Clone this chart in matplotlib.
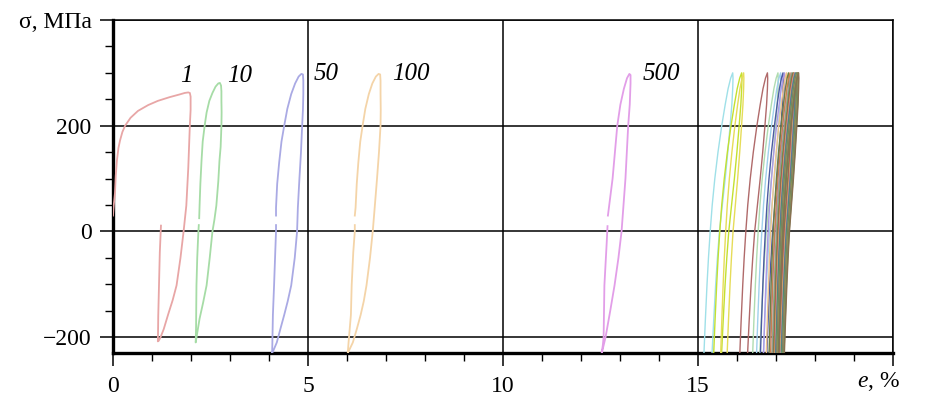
import numpy as np
import matplotlib
matplotlib.use('Agg')
import matplotlib.pyplot as plt
from matplotlib.ticker import MultipleLocator

plt.rcParams['font.family'] = ['Liberation Serif', 'DejaVu Serif']
plt.rcParams['mathtext.fontset'] = 'custom'
plt.rcParams['mathtext.rm'] = 'Liberation Serif'
plt.rcParams['mathtext.it'] = 'Liberation Serif:italic'

# cycle loops: strain (%) and stress (MPa) along the path
e_1 = [0.00, 0.02, 0.05, 0.07, 0.10, 0.14, 0.18, 0.24, 0.31, 0.45, 0.64, 0.90, 1.15,
       1.45, 1.70, 1.84, 1.93, 1.97, 1.99, 1.99, 1.97, 1.95, 1.93, 1.88, 1.81, 1.73,
       1.63, 1.53, 1.41, 1.30, 1.22, 1.17, 1.15, 1.155, 1.16, 1.18, 1.20, 1.23]
s_1 = [30, 50, 72, 105, 134, 158, 172, 188, 200, 215, 228, 239, 247,
       254, 259, 262, 263, 262, 255, 230, 200, 160, 120, 49, 0, -50,
       -102, -130, -158, -185, -200, -207, -208, -190, -160, -100, -40, 11]

e_10 = [2.21, 2.22, 2.24, 2.27, 2.30, 2.35, 2.40, 2.47, 2.55, 2.63, 2.70, 2.74, 2.77,
        2.78, 2.78, 2.785, 2.78, 2.76, 2.73, 2.70, 2.65, 2.60, 2.55, 2.48, 2.40, 2.31,
        2.22, 2.16, 2.12, 2.13, 2.135, 2.14, 2.16, 2.18, 2.19, 2.20]
s_10 = [25, 49, 90, 134, 170, 200, 225, 247, 262, 274, 280, 281, 276,
        265, 247, 225, 200, 160, 134, 95, 49, 22, 0, -50, -102, -135,
        -165, -192, -210, -180, -140, -102, -50, -15, 0, 12]

e_50 = [4.18, 4.18, 4.21, 4.26, 4.32, 4.39, 4.47, 4.57, 4.67, 4.76, 4.83, 4.87, 4.88,
        4.88, 4.87, 4.85, 4.82, 4.78, 4.74, 4.72, 4.66, 4.57, 4.48, 4.39, 4.29, 4.20,
        4.12, 4.08, 4.085, 4.10, 4.13, 4.16, 4.18, 4.18]
s_50 = [30, 45, 90, 130, 170, 200, 232, 260, 280, 293, 298, 297, 285,
        260, 230, 200, 150, 100, 45, 0, -50, -102, -132, -158, -185, -210,
        -224, -230, -215, -158, -102, -40, 0, 12]

e_100 = [6.20, 6.22, 6.25, 6.29, 6.34, 6.40, 6.47, 6.56, 6.65, 6.74, 6.81, 6.85, 6.86,
         6.86, 6.865, 6.86, 6.82, 6.77, 6.71, 6.66, 6.59, 6.50, 6.43, 6.35, 6.25, 6.15,
         6.06, 6.02, 6.04, 6.10, 6.12, 6.16, 6.20, 6.20]
s_100 = [30, 45, 90, 130, 170, 200, 232, 260, 280, 293, 298, 297, 285,
         260, 230, 200, 150, 100, 45, 0, -50, -102, -132, -158, -185, -210,
         -224, -230, -210, -158, -102, -40, 0, 12]

e_500 = [12.69, 12.75, 12.81, 12.87, 12.93, 13.01, 13.10, 13.18, 13.24, 13.27, 13.27,
         13.25, 13.21, 13.14, 13.04, 12.96, 12.86, 12.75, 12.63, 12.55, 12.52,
         12.56, 12.58, 12.60, 12.66, 12.68]
s_500 = [30, 65, 100, 150, 200, 240, 270, 290, 298, 296, 280,
         240, 200, 100, 0, -50, -102, -150, -200, -225, -235,
         -215, -200, -102, -20, 10]

loops = [(e_1, s_1, '#e8a6a6'), (e_10, s_10, '#a6dca6'), (e_50, s_50, '#aaaae4'),
         (e_100, s_100, '#f4d4a8'), (e_500, s_500, '#e29ee8')]

cycle_labels = ['1', '10', '50', '100', '500']
label_e = [1.89, 3.24, 5.46, 7.63, 14.05]
label_s = [294, 294, 298, 298, 298]

# late cycles: loop shape read from the first of them, placed by bottom / peak strain
shape_s_up = [-235, -170, -100, -50, 0, 50, 100, 150, 200, 240, 270, 290, 300]
shape_f_up = [0.0, 0.05, 0.11, 0.16, 0.22, 0.29, 0.38, 0.49, 0.62, 0.74, 0.84, 0.93, 1.0]
shape_s_dn = [300, 290, 270, 240, 200, 150, 100, 50, 0, -50, -100, -170, -235]
shape_f_dn = [1.0, 1.01, 1.0, 0.97, 0.91, 0.83, 0.74, 0.64, 0.54, 0.47, 0.41, 0.34, 0.28]

late_bottom = [15.15, 15.40, 15.58, 16.07, 16.40, 16.50, 16.60, 16.68, 16.75, 16.82,
               16.86, 16.90, 16.93, 16.95, 16.97, 16.99, 17.00, 17.02, 17.03, 17.04,
               17.05, 17.06, 17.07]
late_peak = [15.89, 16.12, 16.17, 16.78, 17.05, 17.12, 17.18, 17.22, 17.27, 17.32,
             17.36, 17.40, 17.43, 17.45, 17.47, 17.49, 17.51, 17.53, 17.54, 17.55,
             17.56, 17.57, 17.58]
late_colors = ['#9fe0e8', '#c4e030', '#e6dc58', '#b06a6a', '#b0dcb0', '#a0d0ec',
               '#4a5aa0', '#ad98e4', '#f0c48c', '#708040', '#c88050', '#999999',
               '#6a9a4a', '#a85050', '#d8aa6a', '#7070b0', '#409070', '#b89070',
               '#606060', '#80b050', '#a88060', '#609060', '#8a7050']

fig = plt.figure(figsize=(9.32, 3.96), dpi=100)
ax = fig.add_axes([113 / 932, 1 - 353 / 396, 780 / 932, 333 / 396])

for e, s, c in loops:
    ax.plot(e, s, color=c, lw=1.3, zorder=3)

for b, p, c in zip(late_bottom, late_peak, late_colors):
    w = p - b
    e = [b + f * w for f in shape_f_up + shape_f_dn]
    ax.plot(e, shape_s_up + shape_s_dn, color=c, lw=1.0, zorder=3)

for t, x, y in zip(cycle_labels, label_e, label_s):
    ax.text(x, y, t, fontsize=18, style='italic', ha='center', va='center')

ax.set_xlim(0, 20)
ax.set_ylim(-230, 400)
ax.set_xticks([0, 5, 10, 15, 20])
ax.set_xticklabels(['0', '5', '10', '15', ''])
ax.set_yticks([-200, 0, 200, 400])
ax.set_yticklabels(['\u2212200', '0', '200', 'σ, МПа'])
ax.xaxis.set_minor_locator(MultipleLocator(1))
ax.yaxis.set_minor_locator(MultipleLocator(50))

ax.tick_params(which='major', direction='out', length=9.5, width=1.1, labelsize=17, pad=6)
ax.tick_params(which='minor', direction='out', length=6, width=1.0)
ax.tick_params(axis='x', which='major', pad=7)
ax.grid(True, which='major', color='black', lw=1.1, zorder=1)

ax.spines['left'].set_linewidth(2.4)
ax.spines['bottom'].set_linewidth(2.4)
ax.spines['top'].set_linewidth(1.1)
ax.spines['right'].set_linewidth(1.1)

ax.text(0.982, -0.085, '$e$, %', transform=ax.transAxes, fontsize=17,
        ha='center', va='center')

fig.savefig('out.png', dpi=100)
